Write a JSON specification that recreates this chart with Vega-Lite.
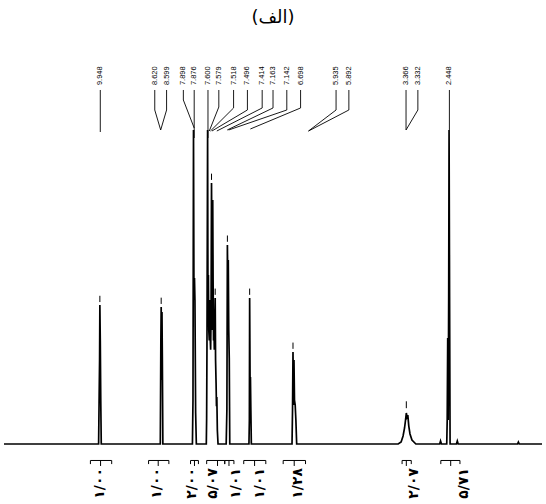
{
  "$schema": "https://vega.github.io/schema/vega-lite/v6.json",
  "width": 546,
  "height": 504,
  "autosize": {"type": "fit", "contains": "padding"},
  "padding": 0,
  "background": "white",
  "config": {"view": {"stroke": null}},
  "datasets": {
    "spectrum": [
      {"ppm": 12.007, "i": 0},
      {"ppm": 9.975, "i": 0}, {"ppm": 9.963, "i": 15.61}, {"ppm": 9.954, "i": 26.75}, {"ppm": 9.948, "i": 44.27}, {"ppm": 9.939, "i": 33.12}, {"ppm": 9.929, "i": 14.01}, {"ppm": 9.918, "i": 0},
      {"ppm": 8.650, "i": 0}, {"ppm": 8.638, "i": 33.12}, {"ppm": 8.631, "i": 43.63}, {"ppm": 8.623, "i": 20.38}, {"ppm": 8.614, "i": 42.04}, {"ppm": 8.606, "i": 26.75}, {"ppm": 8.595, "i": 0},
      {"ppm": 7.960, "i": 0}, {"ppm": 7.948, "i": 14.01}, {"ppm": 7.937, "i": 100}, {"ppm": 7.927, "i": 45.86}, {"ppm": 7.916, "i": 52.87}, {"ppm": 7.906, "i": 45.86}, {"ppm": 7.891, "i": 9.87}, {"ppm": 7.876, "i": 0},
      {"ppm": 7.662, "i": 0}, {"ppm": 7.655, "i": 8}, {"ppm": 7.648, "i": 30}, {"ppm": 7.643, "i": 55.41}, {"ppm": 7.634, "i": 100}, {"ppm": 7.626, "i": 45.86}, {"ppm": 7.617, "i": 53.82}, {"ppm": 7.609, "i": 36.31},
      {"ppm": 7.598, "i": 33}, {"ppm": 7.588, "i": 45.86}, {"ppm": 7.579, "i": 34}, {"ppm": 7.569, "i": 30}, {"ppm": 7.560, "i": 40}, {"ppm": 7.550, "i": 83.12}, {"ppm": 7.541, "i": 58.60},
      {"ppm": 7.533, "i": 36.31}, {"ppm": 7.524, "i": 77.71}, {"ppm": 7.516, "i": 52.23}, {"ppm": 7.507, "i": 33}, {"ppm": 7.499, "i": 37.26}, {"ppm": 7.490, "i": 30}, {"ppm": 7.482, "i": 36},
      {"ppm": 7.471, "i": 46.50}, {"ppm": 7.463, "i": 26.75}, {"ppm": 7.452, "i": 19.43}, {"ppm": 7.444, "i": 12}, {"ppm": 7.436, "i": 14.97}, {"ppm": 7.425, "i": 4.46}, {"ppm": 7.410, "i": 0},
      {"ppm": 7.235, "i": 0}, {"ppm": 7.220, "i": 10.83}, {"ppm": 7.209, "i": 63.38}, {"ppm": 7.199, "i": 50}, {"ppm": 7.190, "i": 58.60}, {"ppm": 7.180, "i": 36.31}, {"ppm": 7.169, "i": 27.39}, {"ppm": 7.158, "i": 0},
      {"ppm": 6.746, "i": 0}, {"ppm": 6.737, "i": 7.64}, {"ppm": 6.731, "i": 46.50}, {"ppm": 6.722, "i": 20.38}, {"ppm": 6.714, "i": 21.34}, {"ppm": 6.705, "i": 10.83}, {"ppm": 6.695, "i": 0},
      {"ppm": 5.821, "i": 0}, {"ppm": 5.810, "i": 10.83}, {"ppm": 5.800, "i": 29.30}, {"ppm": 5.789, "i": 12.42}, {"ppm": 5.779, "i": 26.75}, {"ppm": 5.768, "i": 14.01}, {"ppm": 5.753, "i": 12.42}, {"ppm": 5.738, "i": 7.64}, {"ppm": 5.721, "i": 0},
      {"ppm": 3.541, "i": 0}, {"ppm": 3.478, "i": 0.64}, {"ppm": 3.436, "i": 2.55}, {"ppm": 3.404, "i": 5.10}, {"ppm": 3.383, "i": 7.64}, {"ppm": 3.366, "i": 9.87}, {"ppm": 3.351, "i": 8.6}, {"ppm": 3.334, "i": 9.2}, {"ppm": 3.313, "i": 5.7}, {"ppm": 3.287, "i": 3.2}, {"ppm": 3.245, "i": 1.27}, {"ppm": 3.161, "i": 0},
      {"ppm": 2.650, "i": 0}, {"ppm": 2.631, "i": 0.96}, {"ppm": 2.612, "i": 0},
      {"ppm": 2.498, "i": 0}, {"ppm": 2.488, "i": 7.64}, {"ppm": 2.477, "i": 33.76}, {"ppm": 2.467, "i": 7.64}, {"ppm": 2.456, "i": 46.82}, {"ppm": 2.448, "i": 100}, {"ppm": 2.437, "i": 46.82}, {"ppm": 2.426, "i": 0},
      {"ppm": 2.290, "i": 0}, {"ppm": 2.271, "i": 0.96}, {"ppm": 2.252, "i": 0},
      {"ppm": 0.978, "i": 0}, {"ppm": 0.959, "i": 0.64}, {"ppm": 0.940, "i": 0},
      {"ppm": 0.452, "i": 0}
    ],
    "picks": [
      {"ppm": 9.948, "lo": 45.2, "hi": 47.2},
      {"ppm": 8.631, "lo": 44.6, "hi": 46.6},
      {"ppm": 7.550, "lo": 84.1, "hi": 86.1},
      {"ppm": 7.471, "lo": 47.5, "hi": 49.5},
      {"ppm": 7.209, "lo": 64.4, "hi": 66.4},
      {"ppm": 6.731, "lo": 47.5, "hi": 49.5},
      {"ppm": 5.800, "lo": 30.3, "hi": 32.3},
      {"ppm": 3.366, "lo": 11.4, "hi": 13.6}
    ],
    "labels": [
      {"label": "9.948", "ppm": 9.939},
      {"label": "8.620", "ppm": 8.769},
      {"label": "8.599", "ppm": 8.515},
      {"label": "7.898", "ppm": 8.155},
      {"label": "7.876", "ppm": 7.922},
      {"label": "7.600", "ppm": 7.626},
      {"label": "7.579", "ppm": 7.393},
      {"label": "7.518", "ppm": 7.076},
      {"label": "7.496", "ppm": 6.779},
      {"label": "7.414", "ppm": 6.462},
      {"label": "7.163", "ppm": 6.229},
      {"label": "7.142", "ppm": 5.933},
      {"label": "6.698", "ppm": 5.637},
      {"label": "5.935", "ppm": 4.875},
      {"label": "5.892", "ppm": 4.600},
      {"label": "3.366", "ppm": 3.372},
      {"label": "3.332", "ppm": 3.118},
      {"label": "2.448", "ppm": 2.441}
    ],
    "connectors": [
      {"id": "9.948", "step": 1, "ppm": 9.939, "i": 112.74}, {"id": "9.948", "step": 2, "ppm": 9.939, "i": 99.36},
      {"id": "8.620", "step": 1, "ppm": 8.769, "i": 112.74}, {"id": "8.620", "step": 2, "ppm": 8.769, "i": 106.37}, {"id": "8.620", "step": 3, "ppm": 8.642, "i": 100},
      {"id": "8.599", "step": 1, "ppm": 8.515, "i": 112.74}, {"id": "8.599", "step": 2, "ppm": 8.515, "i": 106.37}, {"id": "8.599", "step": 3, "ppm": 8.642, "i": 100},
      {"id": "7.898", "step": 1, "ppm": 8.155, "i": 112.74}, {"id": "7.898", "step": 2, "ppm": 8.155, "i": 109.55}, {"id": "7.898", "step": 3, "ppm": 7.922, "i": 100.64},
      {"id": "7.876", "step": 1, "ppm": 7.922, "i": 112.74}, {"id": "7.876", "step": 2, "ppm": 7.922, "i": 97.45},
      {"id": "7.600", "step": 1, "ppm": 7.626, "i": 112.74}, {"id": "7.600", "step": 2, "ppm": 7.626, "i": 97.45},
      {"id": "7.579", "step": 1, "ppm": 7.393, "i": 112.74}, {"id": "7.579", "step": 2, "ppm": 7.393, "i": 107.32}, {"id": "7.579", "step": 3, "ppm": 7.598, "i": 99.68},
      {"id": "7.518", "step": 1, "ppm": 7.076, "i": 112.74}, {"id": "7.518", "step": 2, "ppm": 7.076, "i": 107.01}, {"id": "7.518", "step": 3, "ppm": 7.573, "i": 99.68},
      {"id": "7.496", "step": 1, "ppm": 6.779, "i": 112.74}, {"id": "7.496", "step": 2, "ppm": 6.779, "i": 106.37}, {"id": "7.496", "step": 3, "ppm": 7.541, "i": 99.68},
      {"id": "7.414", "step": 1, "ppm": 6.462, "i": 112.74}, {"id": "7.414", "step": 2, "ppm": 6.462, "i": 107.01}, {"id": "7.414", "step": 3, "ppm": 7.436, "i": 99.68},
      {"id": "7.163", "step": 1, "ppm": 6.229, "i": 112.74}, {"id": "7.163", "step": 2, "ppm": 6.229, "i": 107.01}, {"id": "7.163", "step": 3, "ppm": 7.213, "i": 100},
      {"id": "7.142", "step": 1, "ppm": 5.933, "i": 112.74}, {"id": "7.142", "step": 2, "ppm": 5.933, "i": 106.37}, {"id": "7.142", "step": 3, "ppm": 7.182, "i": 100},
      {"id": "6.698", "step": 1, "ppm": 5.637, "i": 112.74}, {"id": "6.698", "step": 2, "ppm": 5.637, "i": 107.01}, {"id": "6.698", "step": 3, "ppm": 6.716, "i": 100.32},
      {"id": "5.935", "step": 1, "ppm": 4.875, "i": 112.74}, {"id": "5.935", "step": 2, "ppm": 4.875, "i": 106.37}, {"id": "5.935", "step": 3, "ppm": 5.467, "i": 99.68},
      {"id": "5.892", "step": 1, "ppm": 4.600, "i": 112.74}, {"id": "5.892", "step": 2, "ppm": 4.600, "i": 106.37}, {"id": "5.892", "step": 3, "ppm": 5.467, "i": 99.68},
      {"id": "3.366", "step": 1, "ppm": 3.372, "i": 112.74}, {"id": "3.366", "step": 2, "ppm": 3.372, "i": 100},
      {"id": "3.332", "step": 1, "ppm": 3.118, "i": 112.74}, {"id": "3.332", "step": 2, "ppm": 3.118, "i": 106.37}, {"id": "3.332", "step": 3, "ppm": 3.372, "i": 100},
      {"id": "2.448", "step": 1, "ppm": 2.441, "i": 112.74}, {"id": "2.448", "step": 2, "ppm": 2.441, "i": 100}
    ],
    "integrals": [
      {"a": 10.151, "b": 9.694, "c": 9.933, "lx": 9.939, "value": "۱/۰۰"},
      {"a": 8.902, "b": 8.466, "c": 8.695, "lx": 8.712, "value": "۱/۰۰"},
      {"a": 8.001, "b": 7.831, "c": 7.916, "lx": 7.965, "value": "۲/۰۰"},
      {"a": 7.654, "b": 7.266, "c": 7.421, "lx": 7.527, "value": "۵/۰۷"},
      {"a": 7.266, "b": 7.069, "c": 7.175, "lx": 7.023, "value": "۱/۰۱"},
      {"a": 6.858, "b": 6.384, "c": 6.625, "lx": 6.519, "value": "۱/۰۱"},
      {"a": 6.011, "b": 5.531, "c": 5.774, "lx": 5.700, "value": "۱/۲۸"},
      {"a": 3.457, "b": 3.260, "c": 3.366, "lx": 3.203, "value": "۲/۰۷"},
      {"a": 2.625, "b": 2.214, "c": 2.413, "lx": 2.123, "value": "۵/۷۱"}
    ]
  },
  "layer": [
    {
      "data": {"name": "spectrum"},
      "mark": {"type": "line", "color": "black", "strokeWidth": 1.7, "interpolate": "linear"},
      "encoding": {
        "x": {"field": "ppm", "type": "quantitative", "scale": {"domain": [0.452, 12.007], "reverse": true, "nice": false, "zero": false}, "axis": null},
        "y": {"field": "i", "type": "quantitative", "scale": {"domain": [-19.11, 141.4], "nice": false, "zero": false}, "axis": null}
      }
    },
    {
      "data": {"name": "picks"},
      "mark": {"type": "rule", "color": "black", "strokeWidth": 1},
      "encoding": {
        "x": {"field": "ppm", "type": "quantitative"},
        "y": {"field": "lo", "type": "quantitative"},
        "y2": {"field": "hi"}
      }
    },
    {
      "data": {"name": "connectors"},
      "mark": {"type": "line", "color": "black", "strokeWidth": 0.9},
      "encoding": {
        "x": {"field": "ppm", "type": "quantitative"},
        "y": {"field": "i", "type": "quantitative"},
        "detail": {"field": "id"},
        "order": {"field": "step", "type": "quantitative"}
      }
    },
    {
      "data": {"name": "labels"},
      "mark": {"type": "text", "angle": 270, "align": "left", "baseline": "middle", "font": "Liberation Sans", "fontSize": 7.5, "color": "black"},
      "encoding": {
        "x": {"field": "ppm", "type": "quantitative"},
        "y": {"datum": 114.3},
        "text": {"field": "label"}
      }
    },
    {
      "data": {"name": "integrals"},
      "mark": {"type": "rule", "color": "black", "strokeWidth": 1},
      "encoding": {
        "x": {"field": "a", "type": "quantitative"},
        "x2": {"field": "b"},
        "y": {"datum": -5.25}
      }
    },
    {
      "data": {"name": "integrals"},
      "mark": {"type": "rule", "color": "black", "strokeWidth": 1},
      "encoding": {
        "x": {"field": "a", "type": "quantitative"},
        "y": {"datum": -5.25},
        "y2": {"datum": -6.4}
      }
    },
    {
      "data": {"name": "integrals"},
      "mark": {"type": "rule", "color": "black", "strokeWidth": 1},
      "encoding": {
        "x": {"field": "b", "type": "quantitative"},
        "y": {"datum": -5.25},
        "y2": {"datum": -6.4}
      }
    },
    {
      "data": {"name": "integrals"},
      "mark": {"type": "rule", "color": "black", "strokeWidth": 1},
      "encoding": {
        "x": {"field": "c", "type": "quantitative"},
        "y": {"datum": -5.25},
        "y2": {"datum": -7.0}
      }
    },
    {
      "data": {"name": "integrals"},
      "mark": {"type": "text", "angle": 270, "align": "right", "baseline": "middle", "font": "DejaVu Sans", "fontWeight": "bold", "fontSize": 14, "color": "black"},
      "encoding": {
        "x": {"field": "lx", "type": "quantitative"},
        "y": {"datum": -7.64},
        "text": {"field": "value"}
      }
    },
    {
      "data": {"values": [{"title": "(الف)", "ppm": 6.229}]},
      "mark": {"type": "text", "align": "center", "baseline": "middle", "font": "DejaVu Sans", "fontSize": 18, "color": "black"},
      "encoding": {
        "x": {"field": "ppm", "type": "quantitative"},
        "y": {"datum": 135.7},
        "text": {"field": "title"}
      }
    }
  ]
}
